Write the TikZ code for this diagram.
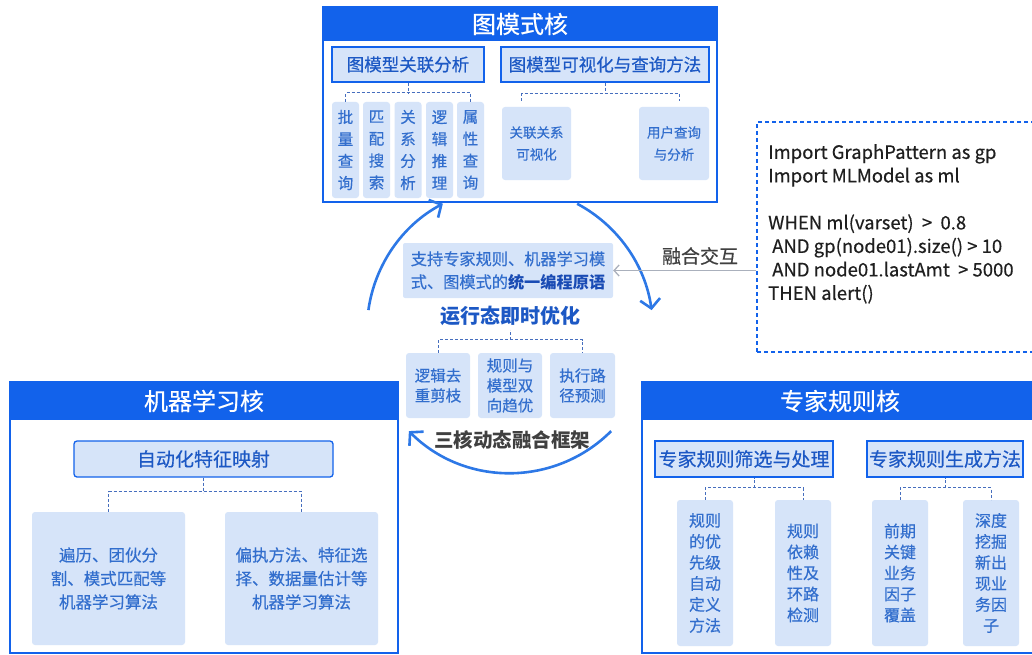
\documentclass[tikz,border=0pt]{standalone}
\usepackage{fontspec}
\setmainfont{Noto Sans CJK SC}[UprightFeatures={FakeBold=0.45}]
\usetikzlibrary{arrows.meta,calc}
\definecolor{hblue}{RGB}{18,98,235}
\definecolor{lfill}{RGB}{214,228,249}
\definecolor{tblue}{RGB}{50,110,205}
\definecolor{sblue}{RGB}{28,88,196}
\definecolor{bblue}{RGB}{25,75,180}
\definecolor{dline}{RGB}{70,110,190}
\definecolor{arcblue}{RGB}{45,120,230}
\definecolor{dgray}{RGB}{64,64,64}
\definecolor{agray}{RGB}{170,176,188}
\newcommand\fsz[2]{\fontsize{#1}{#2}\selectfont}
\tikzset{
  panel/.style={draw=hblue, line width=1.2pt, fill=white, inner sep=0pt},
  header/.style={fill=hblue, text=white, inner sep=0pt, font=\fsz{24}{26}},
  subbox/.style={draw=hblue, line width=1.3pt, fill=lfill, text=sblue, inner sep=0pt},
  leaf/.style={fill=lfill, rounded corners=3pt, text=tblue, align=center, inner sep=0pt},
  tree/.style={draw=dline, line width=0.8pt, dash pattern=on 3pt off 2pt},
  cyc/.style={draw=arcblue, line width=2.6pt, -{Straight Barb[length=9pt,width=20pt]}},
  garrow/.style={draw=agray, line width=1.3pt, -{Straight Barb[length=5pt,width=11pt]}},
}
\begin{document}
\begin{tikzpicture}[x=1pt,y=-1pt]
\useasboundingbox (0,0) rectangle (1032,655);
\clip (0,0) rectangle (1032,655);

% ---------- top panel: graph pattern core ----------
\node[panel, minimum width=394pt, minimum height=195pt] (gpanel) at (520,104.5) {};
\node[header, minimum width=394pt, minimum height=34pt] (ghead) at (520,24) {图模式核};
\node[subbox, minimum width=152pt, minimum height=35pt, font=\fsz{17.5}{20}] (A) at (408,64.5) {图模型关联分析};
\node[subbox, minimum width=208pt, minimum height=35pt, font=\fsz{17.5}{20}] (B) at (605,64.5) {图模型可视化与查询方法};
\foreach \n/\x/\t in {l1/345.5/批\\量\\查\\询, l2/376.5/匹\\配\\搜\\索, l3/408/关\\系\\分\\析, l4/439.5/逻\\辑\\推\\理, l5/470.5/属\\性\\查\\询}{
  \node[leaf, minimum width=27pt, minimum height=96pt, font=\fsz{15.5}{22}] (\n) at (\x,150) {\t};
}
\draw[tree] (A.south) -- ++(0,11);
\draw[tree] (l1.north) -- ++(0,-9) -| (l5.north);
\node[leaf, minimum width=69pt, minimum height=73pt, font=\fsz{13.5}{22}] (C1) at (536.5,143.5) {关联关系\\可视化};
\node[leaf, minimum width=70pt, minimum height=73pt, font=\fsz{13.5}{22}] (C2) at (674,143.5) {用户查询\\与分析};
\coordinate (Bm) at ($(B.south)+(0,11)$);
\draw[tree] (B.south) -- (Bm);
\draw[tree] ($(C1.north west)+(20,-6)$) |- (Bm) -| ($(C2.north east)+(-30,-6)$);

% ---------- center ----------
\coordinate (cc) at (510,330);
\draw[cyc] ($(cc)+(172:143pt)$) arc[start angle=172, end angle=118, radius=143pt];
\draw[cyc] ($(cc)+(62:143pt)$) arc[start angle=62, end angle=8, radius=143pt];
\draw[cyc] ($(cc)+(-45:143pt)$) arc[start angle=-45, end angle=-135, radius=143pt];

\node[fill=lfill, rounded corners=2pt, minimum width=210pt, minimum height=55pt, inner sep=0pt, align=center, text=tblue, font=\fsz{16.2}{23}] (uni) at (508,270.5)
  {支持专家规则、机器学习模\\式、图模式的{\bfseries\color{bblue}统一编程原语}};
\node[inner sep=0pt, text=sblue, font=\fsz{20}{24}\bfseries] (rt) at (510,316) {运行态即时优化};
\node[leaf, minimum width=64pt, minimum height=65pt, font=\fsz{15.5}{20}] (D1) at (438,385.5) {逻辑去\\重剪枝};
\node[leaf, minimum width=64pt, minimum height=65pt, font=\fsz{15.5}{20}] (D2) at (510,385.5) {规则与\\模型双\\向趋优};
\node[leaf, minimum width=65pt, minimum height=65pt, font=\fsz{15.5}{20}] (D3) at (582.5,385.5) {执行路\\径预测};
\draw[tree] (D1.north) -- ++(0,-13) -| (D3.north);
\draw[tree] ($(D2.north)+(0,-13)$) -- ++(0,-10);
\node[inner sep=0pt, text=dgray, font=\fsz{19.5}{22}\bfseries] (sk) at (512,440) {三核动态融合框架};

% ---------- code box ----------
\node[draw=hblue, line width=1.2pt, dash pattern=on 4pt off 3pt, minimum width=290pt, minimum height=230pt, inner sep=0pt] (code) at (902,237) {};
\node[anchor=north west, inner sep=0pt, align=left, text=black!88, font=\fsz{18.5}{23.5}] (codetext) at (768,144)
  {Import GraphPattern as gp\\
   Import MLModel as ml\\[23.5pt]
   WHEN ml(varset)\ \ >\ \ 0.8\\
   \hspace{4pt}AND gp(node01).size() > 10\\
   \hspace{4pt}AND node01.lastAmt\ \ > 5000\\
   THEN alert()};
\draw[garrow] (code.west |- uni.east) -- (uni.east);
\node[inner sep=0pt, text=dgray, font=\fsz{19}{22}] (fh) at (700,256) {融合交互};

% ---------- left panel: machine learning core ----------
\node[panel, minimum width=388pt, minimum height=271pt] (mpanel) at (204,517.5) {};
\node[header, minimum width=388pt, minimum height=38pt] (mhead) at (204,401) {机器学习核};
\node[subbox, rounded corners=3pt, minimum width=259pt, minimum height=36pt, font=\fsz{19}{22}] (E) at (203.5,459) {自动化特征映射};
\node[leaf, minimum width=153pt, minimum height=133pt, font=\fsz{16.5}{23.5}] (F1) at (108.5,578.5) {遍历、团伙分\\割、模式匹配等\\机器学习算法};
\node[leaf, minimum width=153pt, minimum height=133pt, font=\fsz{16.5}{23.5}] (F2) at (301.5,578.5) {偏执方法、特征选\\择、数据量估计等\\机器学习算法};
\draw[tree] (E.south) -- ++(0,15);
\draw[tree] (F1.north) -- ++(0,-20) -| (F2.north);

% ---------- right panel: expert rule core ----------
\node[panel, minimum width=396pt, minimum height=271pt] (epanel) at (840,517.5) {};
\node[header, minimum width=396pt, minimum height=38pt] (ehead) at (840,401) {专家规则核};
\node[subbox, minimum width=178pt, minimum height=36pt, font=\fsz{19}{22}] (G1) at (744,459) {专家规则筛选与处理};
\node[subbox, minimum width=156pt, minimum height=36pt, font=\fsz{19}{22}] (G2) at (945,459) {专家规则生成方法};
\node[leaf, minimum width=56pt, minimum height=146pt, font=\fsz{16}{21}] (H1) at (705,573) {规则\\的优\\先级\\自动\\定义\\方法};
\node[leaf, minimum width=56pt, minimum height=146pt, font=\fsz{16}{21}] (H2) at (803,573) {规则\\依赖\\性及\\环路\\检测};
\node[leaf, minimum width=56pt, minimum height=146pt, font=\fsz{16}{21}] (H3) at (900,573) {前期\\关键\\业务\\因子\\覆盖};
\node[leaf, minimum width=56pt, minimum height=146pt, font=\fsz{16}{21}] (H4) at (991,573) {深度\\挖掘\\新出\\现业\\务因\\子};
\coordinate (m1) at ($(H1.north)!0.5!(H2.north)+(0,-12)$);
\coordinate (m2) at ($(H3.north)!0.5!(H4.north)+(0,-12)$);
\draw[tree] (H1.north) -- (H1.north |- m1) -| (H2.north);
\draw[tree] (m1) -- (m1 |- G1.south);
\draw[tree] (H3.north) -- (H3.north |- m2) -| (H4.north);
\draw[tree] (m2) -- (m2 |- G2.south);
\end{tikzpicture}
\end{document}
